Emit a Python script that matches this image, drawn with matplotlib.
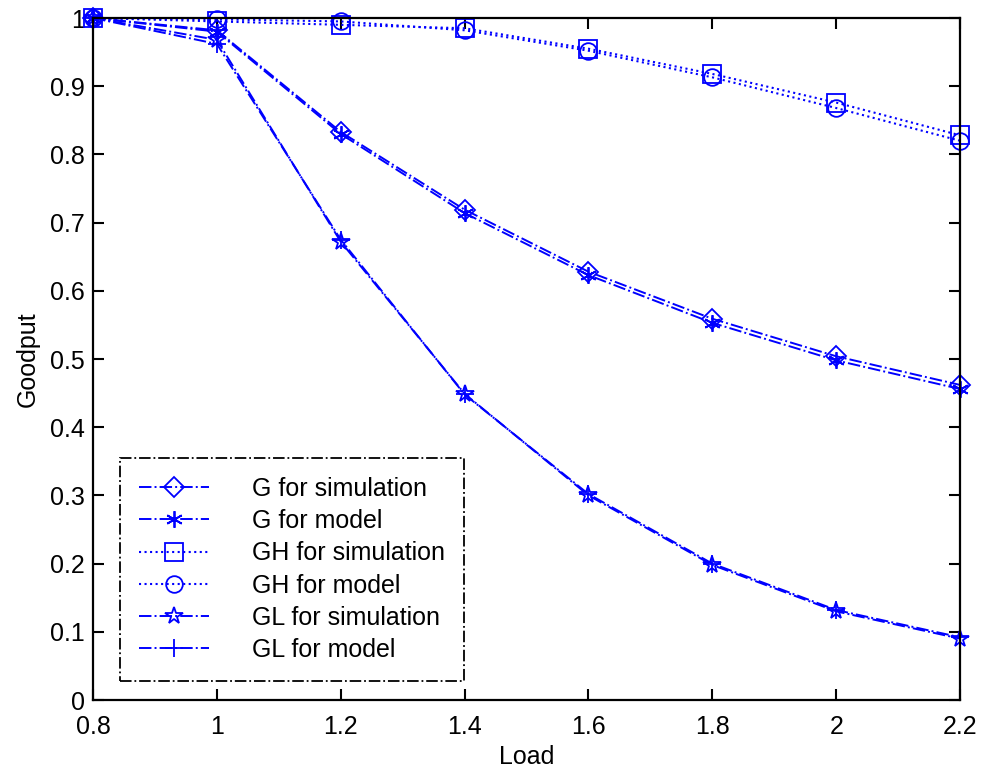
import numpy as np
import matplotlib
matplotlib.use('Agg')
import matplotlib.pyplot as plt
from matplotlib.ticker import FormatStrFormatter

plt.rcParams['font.family'] = ['Liberation Sans', 'DejaVu Sans']

load = [0.8, 1.0, 1.2, 1.4, 1.6, 1.8, 2.0, 2.2]
g_sim = [1.0, 0.982, 0.833, 0.719, 0.628, 0.559, 0.504, 0.462]
g_model = [1.0, 0.980, 0.830, 0.714, 0.623, 0.553, 0.498, 0.456]
gh_sim = [1.0, 0.995, 0.990, 0.985, 0.955, 0.918, 0.876, 0.828]
gh_model = [1.0, 0.998, 0.995, 0.982, 0.952, 0.913, 0.868, 0.820]
gl_sim = [1.0, 0.968, 0.672, 0.449, 0.300, 0.198, 0.130, 0.090]
gl_model = [1.0, 0.962, 0.675, 0.448, 0.302, 0.200, 0.132, 0.092]

blue = '#0000ff'
fs = 18
fig = plt.figure(figsize=(9.82, 7.73), dpi=100)
ax = fig.add_axes([0.0947, 0.0944, 0.883, 0.8823])

common = dict(color=blue, clip_on=False, mew=1.3)
ax.plot(load, g_sim, '-.', lw=1.4, marker='D', ms=10, mfc='none', label='G for simulation', **common)
ax.plot(load, g_model, '-.', lw=1.4, marker=(6, 2, 0), ms=12, label='G for model', **common)
ax.plot(load, gh_sim, ':', lw=1.5, marker='s', ms=13, mfc='none', label='GH for simulation', **common)
ax.plot(load, gh_model, ':', lw=1.5, marker='o', ms=12, mfc='none', label='GH for model', **common)
ax.plot(load, gl_sim, '-.', lw=1.4, marker='*', ms=13, mfc='none', label='GL for simulation', **common)
ax.plot(load, gl_model, '-.', lw=1.4, marker='+', ms=13, label='GL for model', **common)

ax.set_xlim(0.8, 2.2)
ax.set_ylim(0, 1)
ax.set_xticks(load)
ax.set_yticks(np.arange(0, 1.01, 0.1))
ax.xaxis.set_major_formatter(FormatStrFormatter('%g'))
ax.yaxis.set_major_formatter(FormatStrFormatter('%g'))
ax.tick_params(direction='in', length=8, width=1.5, labelsize=fs, top=True, right=True)
ax.tick_params(axis='x', pad=11)
ax.tick_params(axis='y', pad=6)
for s in ax.spines.values():
    s.set_linewidth(1.6)
ax.set_xlabel('Load', fontsize=fs, labelpad=4)
ax.set_ylabel('Goodput', fontsize=fs, labelpad=7)

leg = ax.legend(loc='lower left', bbox_to_anchor=(0.031, 0.028), fontsize=fs, handlelength=2.8,
                handletextpad=1.75, borderpad=0.75, labelspacing=0.33, fancybox=False, framealpha=1,
                edgecolor='black', borderaxespad=0)
leg.get_frame().set_linestyle('-.')
leg.get_frame().set_linewidth(1.3)

fig.savefig('out.png', dpi=100)
